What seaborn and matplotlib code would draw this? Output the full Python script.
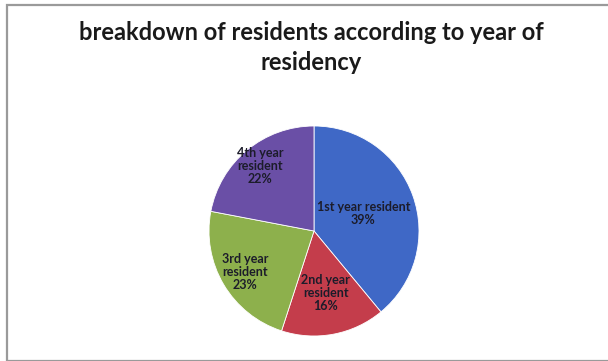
import numpy as np
import matplotlib
matplotlib.use("Agg")
import matplotlib.pyplot as plt
import seaborn as sns
from matplotlib.patches import Rectangle

# --- Data ---
years = ["1st year resident", "2nd year resident", "3rd year resident", "4th year resident"]
shares = [39, 16, 23, 22]
label_text = ["1st year resident\n39%", "2nd year\nresident\n16%",
              "3rd year\nresident\n23%", "4th year\nresident\n22%"]
colors = ["#3F68C6", "#C43D4B", "#8DB04C", "#6A4FA6"]

sns.set_theme(style="white")
plt.rcParams["font.family"] = ["Lato", "DejaVu Sans"]

fig = plt.figure(figsize=(6.08, 3.61), dpi=100)
fig.patch.set_facecolor("white")

# thin grey frame like the original chart area
fig.add_artist(Rectangle((7 / 608, 0.5 / 361), 1.2, (361 - 5.5) / 361,
                         transform=fig.transFigure, fill=False,
                         edgecolor="#9a9a9a", linewidth=1.6))

fig.text(311 / 608, 1 - 33 / 361,
         "breakdown of residents according to year of", ha="center",
         va="center", fontsize=17, fontweight="bold", color="#1a1a1a")
fig.text(311 / 608, 1 - 62 / 361, "residency", ha="center", va="center",
         fontsize=17, fontweight="bold", color="#1a1a1a")

cx, cy, r = 314, 231, 105
ax = fig.add_axes([(cx - r) / 608, (361 - cy - r) / 361, 2 * r / 608, 2 * r / 361])
wedges, _ = ax.pie(shares, colors=colors, startangle=90, counterclock=False,
                   wedgeprops=dict(edgecolor="white", linewidth=0.6))
ax.set_xlim(-1, 1)
ax.set_ylim(-1, 1)
ax.set_aspect("equal")

# label placement (fraction of radius) for each slice
label_r = [0.5, 0.6, 0.76, 0.8]
for w, txt, lr in zip(wedges, label_text, label_r):
    ang = np.deg2rad((w.theta1 + w.theta2) / 2)
    ax.text(lr * np.cos(ang), lr * np.sin(ang), txt, ha="center",
            va="center", fontsize=9, fontweight="bold", color="#1c1c2a",
            linespacing=1.1)

fig.savefig("out.png", dpi=100)
